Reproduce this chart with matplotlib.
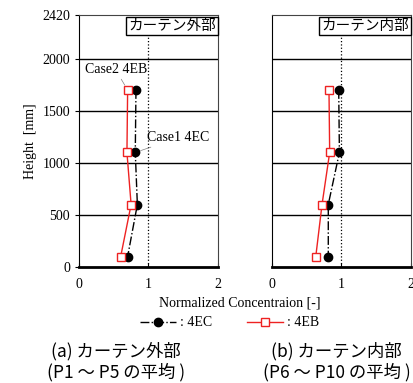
import matplotlib
matplotlib.use('Agg')
import matplotlib.pyplot as plt
from matplotlib.lines import Line2D

plt.rcParams['font.family'] = ['Liberation Serif', 'Noto Sans CJK JP']
jp = ['Noto Sans CJK JP', 'DejaVu Sans']

# data
height = [1700, 1100, 600, 100]
out_4ec = [0.82, 0.81, 0.84, 0.70]
out_4eb = [0.70, 0.69, 0.75, 0.60]
in_4ec = [0.96, 0.97, 0.81, 0.81]
in_4eb = [0.82, 0.83, 0.72, 0.63]

panel_titles = ['カーテン外部', 'カーテン内部']
captions = ['(a) カーテン外部\n(P1 ～ P5 の平均 )', '(b) カーテン内部\n(P6 ～ P10 の平均 )']

fig = plt.figure(figsize=(4.14, 3.83), dpi=100)
ax1 = fig.add_axes([0.1908, 0.3029, 0.3357, 0.658])
ax2 = fig.add_axes([0.657, 0.3029, 0.3357, 0.658])

for ax, ec, eb, title in [(ax1, out_4ec, out_4eb, panel_titles[0]),
                          (ax2, in_4ec, in_4eb, panel_titles[1])]:
    ax.set_xlim(0, 2)
    ax.set_ylim(0, 2420)
    for g in [500, 1000, 1500, 2000]:
        ax.axhline(g, color='black', lw=1.0, zorder=1)
    ax.axvline(1, color='black', lw=0.9, ls=':', zorder=1)
    ax.plot(ec, height, color='black', ls='-.', lw=1.0, marker='o', ms=6, zorder=3)
    ax.plot(eb, height, color='#ee2222', ls='-', lw=1.0, marker='s', ms=6,
            mfc='white', mec='#ee2222', mew=1.0, zorder=4)
    ax.set_xticks([0, 1, 2])
    ax.set_xticklabels([])
    ax.tick_params(axis='x', direction='in', length=3, width=0.8)
    for s in ['top', 'right']:
        ax.spines[s].set_linewidth(0.8)
        ax.spines[s].set_color('#444444')
    ax.spines['left'].set_linewidth(0.8)
    ax.spines['bottom'].set_linewidth(2.0)
    ax.text(0.985, 0.985, title, transform=ax.transAxes, ha='right', va='top',
            family=jp, fontsize=10.5, zorder=6,
            bbox=dict(boxstyle='square,pad=0.15', fc='white', ec='black', lw=1.0))
    for xv in [0, 1, 2]:
        ax.text(xv, -110, str(xv), ha='center', va='top', fontsize=10)

ax1.set_yticks([0, 500, 1000, 1500, 2000, 2420])
ax1.tick_params(axis='y', direction='out', length=3, width=0.8, labelsize=10)
ax1.set_ylabel('Height  [mm]', fontsize=10)
ax2.set_yticks([])

ax1.annotate('Case2 4EB', xy=(out_4eb[0], height[0]), xytext=(0.08, 1830),
             fontsize=10, va='bottom', ha='left',
             arrowprops=dict(arrowstyle='-', lw=0.5, color='gray', shrinkA=0, shrinkB=4))
ax1.annotate('Case1 4EC', xy=(out_4ec[1], height[1]), xytext=(0.98, 1240),
             fontsize=10, va='center', ha='left',
             arrowprops=dict(arrowstyle='-', lw=0.5, color='gray', shrinkA=0, shrinkB=4))

fig.text(0.58, 0.209, 'Normalized Concentraion [-]', ha='center', va='center', fontsize=10)

handles = [Line2D([], [], color='black', ls='-.', lw=1.0, marker='o', ms=6),
           Line2D([], [], color='#ee2222', ls='-', lw=1.0, marker='s', ms=6,
                  mfc='white', mec='#ee2222')]
fig.legend(handles, [': 4EC', ': 4EB'], loc='center', bbox_to_anchor=(0.555, 0.157),
           ncol=2, frameon=False, fontsize=10, handlelength=2.6, columnspacing=2.5,
           handletextpad=0.3)

fig.text(0.280, 0.055, captions[0], ha='center', va='center', family=jp,
         fontsize=12.5, linespacing=1.2)
fig.text(0.813, 0.055, captions[1], ha='center', va='center', family=jp,
         fontsize=12.5, linespacing=1.2)

fig.savefig('out.png', dpi=100)
